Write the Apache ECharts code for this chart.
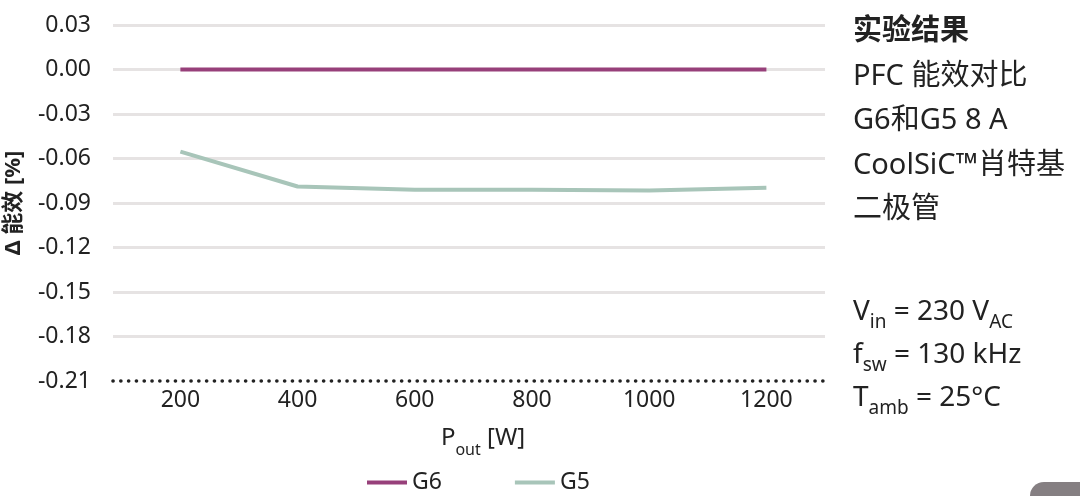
<!DOCTYPE html>
<html>
<head>
<meta charset="utf-8">
<script src="https://cdn.jsdelivr.net/npm/echarts@6/dist/echarts.min.js"></script>
<style>html,body{margin:0;padding:0;background:#fff;}#c{width:1080px;height:496px;}</style>
</head>
<body>
<div id="c"></div>
<script>
var xValues = [200, 400, 600, 800, 1000, 1200];
var xTicks = [200, 400, 600, 800, 1000, 1200];
var g6 = [0, 0, 0, 0, 0, 0];
var g5 = [-0.0554, -0.0789, -0.0810, -0.0811, -0.0815, -0.0797];
var seriesNames = ['G6', 'G5'];
var sideLines = ['实验结果', 'PFC 能效对比', 'G6和G5 8 A', 'CoolSiC™肖特基', '二极管'];

var FONT = '"Noto Sans", "Noto Sans CJK SC", sans-serif';
function pairs(ys) { return xValues.map(function (x, i) { return [x, ys[i]]; }); }

var chart = echarts.init(document.getElementById('c'));
var gridColors = ['rgba(0,0,0,0)'];
for (var i = 0; i < 8; i++) gridColors.push('#e6e3e3');

var graphics = [];
var lineYs = [38, 83, 127, 172, 216];
sideLines.forEach(function (t, i) {
  graphics.push({
    type: 'text', left: 853, top: lineYs[i] - 21,
    style: { text: t, font: (i === 0 ? 'bold ' : '') + '29px ' + FONT, fill: '#222' }
  });
});
var condLines = [
  '{m|V}{s|in}{m| = 230 V}{s|AC}',
  '{m|f}{s|sw}{m| = 130 kHz}',
  '{m|T}{s|amb}{m| = 25°C}'
];
var condYs = [298, 341, 384];
condLines.forEach(function (t, i) {
  graphics.push({
    type: 'text', left: 853, top: condYs[i],
    style: {
      text: t,
      rich: {
        m: { fontSize: 28, fontFamily: FONT, fill: '#222', color: '#222', verticalAlign: 'bottom', lineHeight: 40 },
        s: { fontSize: 19, fontFamily: FONT, fill: '#222', color: '#222', verticalAlign: 'bottom', lineHeight: 30, padding: [0, 0, -6, 0] }
      }
    }
  });
});
graphics.push({
  type: 'rect', left: 1030, top: 482,
  shape: { width: 80, height: 40, r: 14 },
  style: { fill: '#857f82' }
});

chart.setOption({
  animation: false,
  backgroundColor: '#fff',
  grid: { left: 113, right: 255, top: 25, bottom: 115, outerBoundsMode: 'none', containLabel: false },
  xAxis: {
    type: 'value', min: 85, max: 1300,
    name: 'P{sub|out} [W]',
    nameLocation: 'middle', nameGap: 45,
    nameTextStyle: {
      fontSize: 24, fontFamily: FONT, color: '#222', padding: [0, 0, 0, 28],
      rich: { sub: { fontSize: 16, fontFamily: FONT, color: '#222', verticalAlign: 'bottom', padding: [0, 0, -8, 0] } }
    },
    axisLine: { show: true, onZero: false, lineStyle: { color: '#222', width: 3.6, type: [0.1, 7.7], cap: 'round' } },
    axisTick: { show: false },
    splitLine: { show: false },
    axisLabel: {
      customValues: xTicks, fontSize: 23, fontFamily: FONT, color: '#222', margin: 8,
      formatter: function (v) { return String(v); }
    }
  },
  yAxis: {
    type: 'value', min: -0.21, max: 0.03, interval: 0.03,
    name: 'Δ 能效 [%]', nameLocation: 'middle', nameRotate: 90, nameGap: 88,
    nameTextStyle: { fontSize: 22, fontWeight: 'bold', fontFamily: FONT, color: '#222' },
    axisLine: { show: false }, axisTick: { show: false },
    splitLine: { show: true, lineStyle: { color: gridColors, width: 3 } },
    axisLabel: {
      fontSize: 23, fontFamily: FONT, color: '#222', margin: 22,
      formatter: function (v) { return v.toFixed(2); }
    }
  },
  legend: {
    left: 362, top: 466, itemWidth: 40, itemHeight: 4, itemGap: 73,
    icon: 'rect',
    textStyle: { fontSize: 23, fontFamily: FONT, color: '#222' },
    data: seriesNames
  },
  series: [
    { name: seriesNames[0], type: 'line', data: pairs(g6), showSymbol: false, symbol: 'none',
      lineStyle: { color: '#97407a', width: 4 }, itemStyle: { color: '#97407a' }, z: 3 },
    { name: seriesNames[1], type: 'line', data: pairs(g5), showSymbol: false, symbol: 'none',
      lineStyle: { color: '#a8c5b9', width: 4 }, itemStyle: { color: '#a8c5b9' }, z: 2 }
  ],
  graphic: graphics
});
</script>
</body>
</html>
